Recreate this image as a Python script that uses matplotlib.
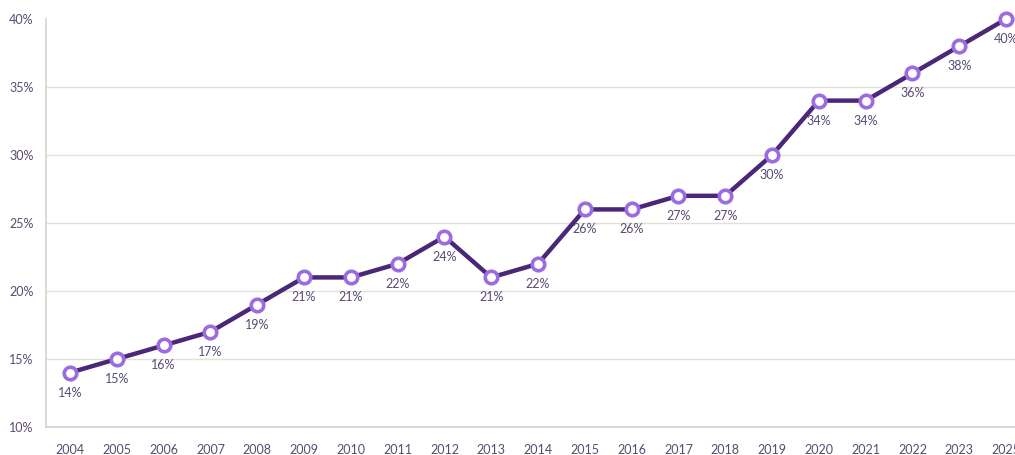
import matplotlib
matplotlib.use("Agg")
import matplotlib.pyplot as plt
from matplotlib.ticker import FuncFormatter

years = ["2004", "2005", "2006", "2007", "2008", "2009", "2010", "2011", "2012",
         "2013", "2014", "2015", "2016", "2017", "2018", "2019", "2020", "2021",
         "2022", "2023", "2025"]
values = [14, 15, 16, 17, 19, 21, 21, 22, 24, 21, 22, 26, 26, 27, 27, 30, 34, 34,
          36, 38, 40]
y_ticks = [10, 15, 20, 25, 30, 35, 40]

LINE = "#4a2779"
MARKER_EDGE = "#9c6be0"
TEXT = "#5a4a74"
GRID = "#e3e0d8"

plt.rcParams["font.family"] = ["Lato", "DejaVu Sans"]

fig = plt.figure(figsize=(10.15, 4.55), dpi=100)
ax = fig.add_axes([0.0453, 0.0615, 0.9547, 0.8967])

x = list(range(len(years)))
ax.plot(x, values, color=LINE, lw=3.2, zorder=3, clip_on=False,
        marker="o", markersize=9, markerfacecolor="white",
        markeredgecolor=MARKER_EDGE, markeredgewidth=2.6)

for xi, v in zip(x, values):
    ax.annotate(f"{v}%", (xi, v), xytext=(0, -10), textcoords="offset points",
                ha="center", va="top", fontsize=9, color=TEXT, zorder=4,
                annotation_clip=False)

ax.set_xlim(-0.513, 20.19)
ax.set_ylim(10, 40)
ax.set_xticks(x)
ax.set_xticklabels(years)
ax.set_yticks(y_ticks)
ax.yaxis.set_major_formatter(FuncFormatter(lambda v, p: f"{int(v)}%"))

# horizontal grid lines (none on the top value)
for t in y_ticks[1:-1]:
    ax.axhline(t, color=GRID, lw=1, zorder=1)

ax.tick_params(axis="both", length=0, labelsize=9, labelcolor=TEXT)
ax.tick_params(axis="x", pad=12)
ax.tick_params(axis="y", pad=9)

for s in ["top", "right"]:
    ax.spines[s].set_visible(False)
for s in ["left", "bottom"]:
    ax.spines[s].set_color("#d6d3cb")
    ax.spines[s].set_linewidth(1.2)

fig.savefig("out.png", dpi=100)
